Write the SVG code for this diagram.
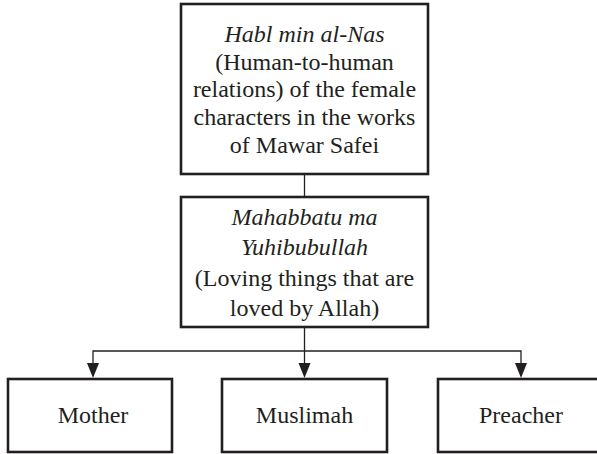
<svg xmlns="http://www.w3.org/2000/svg" width="597" height="454" viewBox="0 0 597 454">
<defs>
<style>
.box{fill:#fff;stroke:#231f20;stroke-width:2.6}
.t{font-family:'Liberation Serif','Times New Roman',serif;font-size:24px;fill:#231f20;text-anchor:middle}
.i{font-style:italic}
.c{fill:none;stroke:#231f20;stroke-width:1.3}
.h{fill:#231f20}
</style>
</defs>
<rect width="597" height="454" fill="#fff"/>
<g id="connectors">
<line class="c" x1="304.5" y1="174" x2="304.5" y2="197"/>
<line class="c" x1="304.5" y1="328" x2="304.5" y2="364"/>
<path class="c" d="M93,364 V351 H521 V364"/>
<path class="h" d="M87,363 L93,378 L99,363 Z"/>
<path class="h" d="M298.5,363 L304.5,378 L310.5,363 Z"/>
<path class="h" d="M515,363 L521,378 L527,363 Z"/>
</g>
<g id="top">
<rect class="box" x="181" y="4" width="247" height="170"/>
<text class="t" font-family="Liberation Serif, serif" x="304.5"><tspan class="i" x="304.5" y="42">Habl min al-Nas</tspan><tspan x="304.5" y="70">(Human-to-human</tspan><tspan x="304.5" y="97">relations) of the female</tspan><tspan x="304.5" y="125">characters in the works</tspan><tspan x="304.5" y="153">of Mawar Safei</tspan></text>
</g>
<g id="middle">
<rect class="box" x="181" y="197" width="247" height="130"/>
<text class="t" font-family="Liberation Serif, serif" x="304.5"><tspan class="i" x="304.5" y="225">Mahabbatu ma</tspan><tspan class="i" x="304.5" y="255">Yuhibubullah</tspan><tspan x="304.5" y="286">(Loving things that are</tspan><tspan x="304.5" y="316">loved by Allah)</tspan></text>
</g>
<g id="mother">
<rect class="box" x="8" y="379" width="164" height="73"/>
<text class="t" font-family="Liberation Serif, serif" x="93" y="423">Mother</text>
</g>
<g id="muslimah">
<rect class="box" x="222" y="379" width="165" height="73"/>
<text class="t" font-family="Liberation Serif, serif" x="304.5" y="423">Muslimah</text>
</g>
<g id="preacher">
<rect class="box" x="438" y="379" width="170" height="73"/>
<text class="t" font-family="Liberation Serif, serif" x="521" y="423">Preacher</text>
</g>
</svg>
